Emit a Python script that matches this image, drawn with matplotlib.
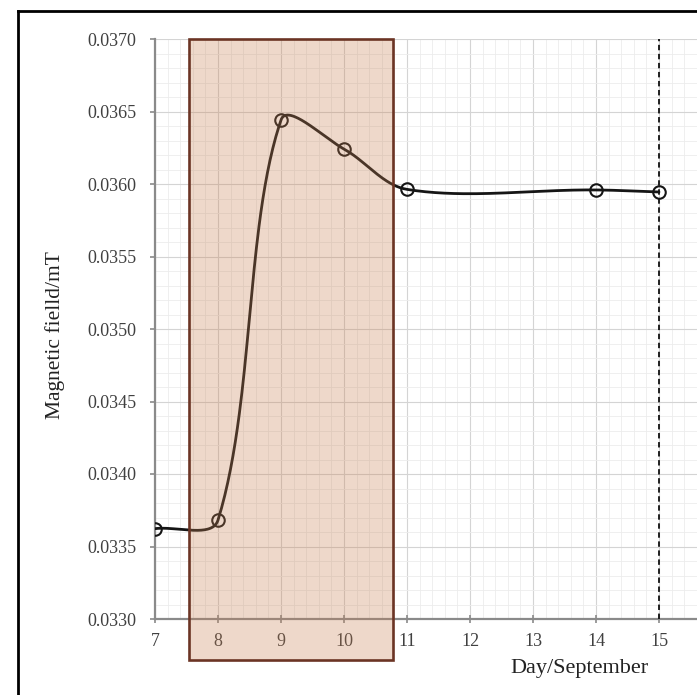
import numpy as np
import matplotlib
matplotlib.use("Agg")
import matplotlib.pyplot as plt
from matplotlib.patches import Rectangle
from matplotlib.lines import Line2D
from matplotlib.ticker import MultipleLocator, FormatStrFormatter

plt.rcParams['font.family'] = ['Liberation Serif', 'DejaVu Serif']

# ===================== data =====================
day = [7, 8, 9, 10, 11, 14, 15]
field = [0.033623, 0.033682, 0.036441, 0.036241, 0.035963, 0.035959, 0.035945]
x_ticks = [7, 8, 9, 10, 11, 12, 13, 14, 15]
y_ticks = [0.0330, 0.0335, 0.0340, 0.0345, 0.0350, 0.0355, 0.0360, 0.0365, 0.0370]
shade_x = (7.54, 10.77)
marker_day = 15

W, H = 697, 695
fig = plt.figure(figsize=(W / 100, H / 100), dpi=100)
ax = fig.add_axes([155 / W, 1 - 619 / H, (W - 155) / W + 0.005, (619 - 39) / H])

ax.set_xlim(7, 7 + (W - 155 + 3.5) / 63)
ax.set_ylim(0.0330, 0.0370)
ax.set_xticks(x_ticks)
ax.set_yticks(y_ticks)
ax.xaxis.set_minor_locator(MultipleLocator(0.2))
ax.yaxis.set_minor_locator(MultipleLocator(0.0001))
ax.yaxis.set_major_formatter(FormatStrFormatter('%.4f'))

ax.grid(True, which='major', color='#d4d4d4', linewidth=0.8, zorder=0)
ax.grid(True, which='minor', color='#ececec', linewidth=0.6, zorder=0)
ax.set_axisbelow(True)

for s in ['top', 'right']:
    ax.spines[s].set_visible(False)
for s in ['left', 'bottom']:
    ax.spines[s].set_color('#8a8a8a')
    ax.spines[s].set_linewidth(1.6)

ax.tick_params(axis='y', which='major', direction='out', length=3.5, width=1.2,
               color='#8a8a8a', labelsize=13, labelcolor='#404040', pad=10)
ax.tick_params(axis='x', which='major', direction='inout', length=6, width=1.2,
               color='#8a8a8a', labelsize=13, labelcolor='#404040', pad=7)
ax.tick_params(which='minor', length=0)


# smooth curve through the points (Bezier in screen space, like a spreadsheet smoothed line)
def smooth_curve(ax, xs, ys, n=60):
    pts = ax.transData.transform(np.column_stack([xs, ys]))
    out = [pts[0]]
    m = len(pts)
    for i in range(m - 1):
        p0 = pts[i - 1] if i > 0 else pts[i]
        p1, p2 = pts[i], pts[i + 1]
        p3 = pts[i + 2] if i + 2 < m else pts[i + 1]
        d01 = np.hypot(*(p1 - p0))
        d12 = np.hypot(*(p2 - p1))
        d23 = np.hypot(*(p3 - p2))
        c1 = p1 + (p2 - p0) * (d12 / (d01 + d12)) / 3
        c2 = p2 - (p3 - p1) * (d12 / (d12 + d23)) / 3
        t = np.linspace(0, 1, n)[1:, None]
        seg = ((1 - t) ** 3) * p1 + 3 * ((1 - t) ** 2) * t * c1 + 3 * (1 - t) * t ** 2 * c2 + t ** 3 * p2
        out.extend(seg)
    out = np.array(out)
    return ax.transData.inverted().transform(out)


curve = smooth_curve(ax, day, field)
ax.plot(curve[:, 0], curve[:, 1], color='#151515', linewidth=2.0, zorder=3,
        solid_capstyle='round')
ax.plot(day, field, linestyle='none', marker='o', markersize=9, markerfacecolor='none',
        markeredgecolor='#151515', markeredgewidth=1.5, zorder=4)

ax.axvline(marker_day, color='#111111', linestyle=(0, (3, 2)), linewidth=1.3, zorder=3)

# shaded period
ax.add_patch(Rectangle((shade_x[0], 0.032717), shade_x[1] - shade_x[0], 0.0370 - 0.032717,
                       facecolor=(0.78, 0.50, 0.32, 0.30), edgecolor='#6b3424',
                       linewidth=1.9, clip_on=False, zorder=5))

fig.text(579 / W, 1 - 668 / H, 'Day/September', ha='center', va='center',
         fontsize=16, color='#222222')
fig.text(55 / W, 1 - 335 / H, 'Magnetic fielld/mT', ha='center', va='center',
         rotation=90, fontsize=15.5, color='#222222')

# outer frame (left and top edges visible)
fig.add_artist(Line2D([18 / W, 18 / W], [-0.01, 1 - 11 / H], color='black', linewidth=2.0,
                      transform=fig.transFigure))
fig.add_artist(Line2D([18 / W, 1.01], [1 - 11 / H, 1 - 11 / H], color='black', linewidth=2.0,
                      transform=fig.transFigure))

fig.savefig('out.png', dpi=100)
